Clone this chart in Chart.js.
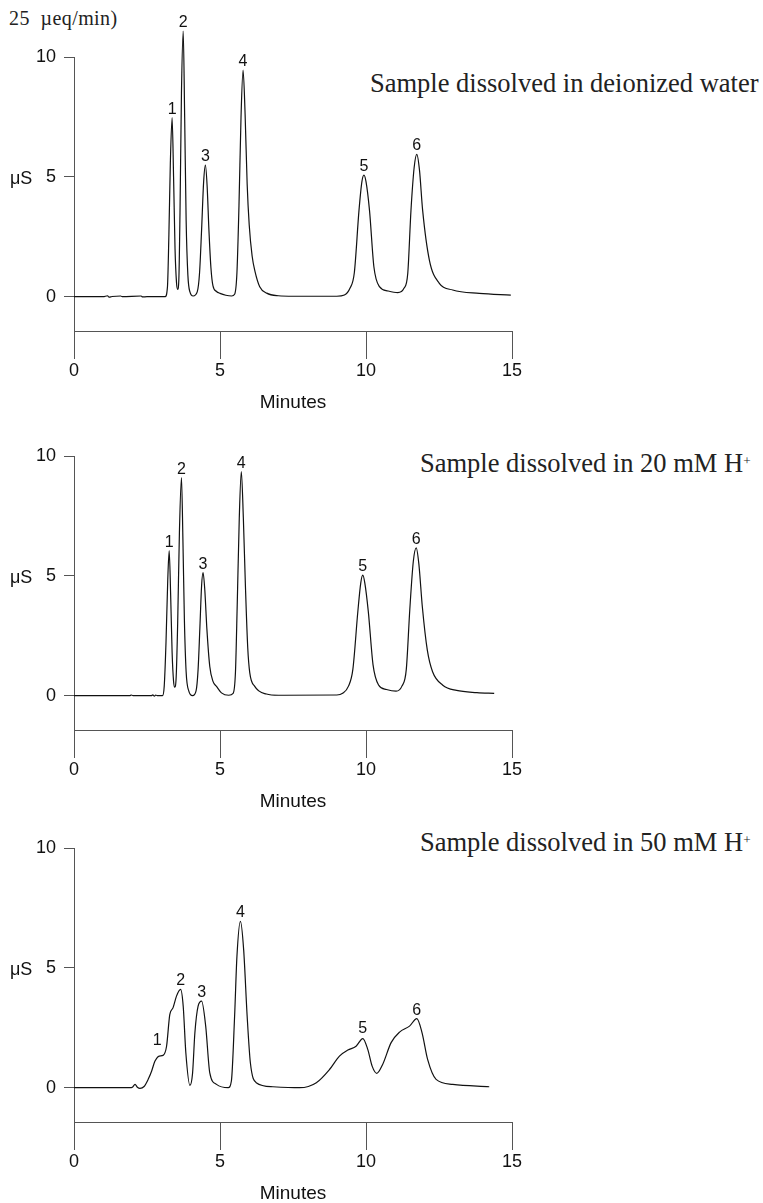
<!DOCTYPE html>
<html>
<head>
<meta charset="utf-8">
<script src="https://cdn.jsdelivr.net/npm/chart.js@4.4.1/dist/chart.umd.min.js"></script>
<style>
  html, body { margin: 0; padding: 0; background: #fff; width: 763px; height: 1203px; overflow: hidden; }
  .panel { position: absolute; left: 0; width: 763px; height: 420px; }
  .note { position: absolute; font-family: "Liberation Serif", "Times New Roman", serif; color: #222;
          white-space: nowrap; line-height: 1; }
  .note .sup { position: relative; top: -0.55em; font-size: 0.5em; }
</style>
</head>
<body>

<div class="note" style="left:9px; top:8px; font-size:20px; letter-spacing:0.4px">25&nbsp; µeq/min)</div>
<div class="note" style="left:370px; top:70px; font-size:26.5px">Sample dissolved in deionized water</div>
<div class="note" style="left:420px; top:450px; font-size:26.5px">Sample dissolved in 20 mM H<span class="sup">+</span></div>
<div class="note" style="left:420px; top:829px; font-size:26.5px">Sample dissolved in 50 mM H<span class="sup">+</span></div>

<div class="panel" style="top:0px"><canvas id="chartWater"></canvas></div>
<div class="panel" style="top:399px"><canvas id="chart20"></canvas></div>
<div class="panel" style="top:791px"><canvas id="chart50"></canvas></div>

<script>
// ---- axes ----
const xTicks = [0, 5, 10, 15];
const yTicks = [0, 5, 10];
const peakNames = ['1', '2', '3', '4', '5', '6'];

// ---- sample in deionized water (minutes / µS) ----
const timesWater = [
  0, 1.0, 1.15, 1.2, 1.3, 1.6, 1.65, 2.3, 2.35, 2.5,
  3.12, 3.2, 3.25, 3.3, 3.36, 3.41, 3.46, 3.51, 3.55, 3.59,
  3.63, 3.68, 3.74, 3.79, 3.84, 3.9, 3.97, 4.08, 4.22, 4.3,
  4.37, 4.44, 4.5, 4.56, 4.62, 4.69, 4.76, 4.88, 5.0, 5.2,
  5.4, 5.5, 5.58, 5.65, 5.72, 5.79, 5.86, 5.93, 6.0, 6.1,
  6.2, 6.36, 6.6, 7.0, 7.5, 9.0, 9.26, 9.45, 9.6, 9.76,
  9.86, 9.93, 10.0, 10.12, 10.27, 10.46, 10.75, 11.09, 11.3, 11.43,
  11.54, 11.65, 11.74, 11.83, 11.94, 12.17, 12.51, 12.97, 13.88, 14.96
];
const signalWater = [
  0, 0, 0.04, -0.02, 0.01, 0.03, 0, 0.03, -0.01, 0,
  0, 0.4, 2.6, 5.6, 7.47, 5.0, 2.0, 0.6, 0.31, 0.7,
  3.5, 8.5, 11.08, 7.5, 3.2, 0.9, 0.2, 0.03, 0.2, 1.0,
  2.8, 4.8, 5.49, 4.6, 2.8, 1.2, 0.45, 0.22, 0.14, 0.06,
  0.03, 0.1, 1.0, 3.8, 7.5, 9.45, 7.6, 4.7, 3.0, 1.7,
  1.05, 0.42, 0.15, 0.04, 0.02, 0.02, 0.07, 0.35, 1.0, 3.6,
  4.8, 5.07, 4.8, 3.6, 1.25, 0.42, 0.24, 0.17, 0.35, 0.97,
  3.6, 5.4, 5.94, 5.3, 3.6, 1.53, 0.56, 0.28, 0.14, 0.07
];
const labelTimesWater = [3.36, 3.74, 4.50, 5.79, 9.93, 11.74];
const labelLevelsWater = [7.47, 11.08, 5.49, 9.45, 5.07, 5.94];

// ---- sample in 20 mM H+ ----
const times20 = [
  0, 1.9, 1.97, 2.02, 2.65, 2.7, 2.75, 2.8, 2.85, 3.03,
  3.09, 3.15, 3.21, 3.26, 3.31, 3.36, 3.41, 3.45, 3.5, 3.55,
  3.61, 3.68, 3.73, 3.78, 3.84, 3.93, 4.06, 4.18, 4.25, 4.31,
  4.37, 4.42, 4.48, 4.55, 4.65, 4.76, 4.88, 5.05, 5.3, 5.45,
  5.53, 5.59, 5.66, 5.73, 5.8, 5.87, 5.95, 6.02, 6.19, 6.59,
  7.0, 9.0, 9.2, 9.4, 9.55, 9.72, 9.82, 9.89, 9.96, 10.08,
  10.24, 10.43, 10.7, 11.03, 11.23, 11.38, 11.5, 11.62, 11.72, 11.81,
  11.93, 12.1, 12.28, 12.63, 13.1, 13.8, 14.39
];
const signal20 = [
  0, 0, 0.03, 0, 0, 0.04, -0.02, 0.03, 0, 0,
  0.4, 2.2, 4.8, 6.05, 4.2, 1.8, 0.6, 0.36, 0.8, 3.0,
  6.8, 9.1, 6.5, 3.2, 1.0, 0.2, 0.0, 0.2, 1.1, 2.8,
  4.6, 5.14, 4.4, 2.8, 1.22, 0.6, 0.39, 0.12, 0.02, 0.1,
  1.0, 3.8, 7.4, 9.35, 7.4, 4.6, 2.0, 0.95, 0.39, 0.07,
  0.02, 0.03, 0.1, 0.4, 1.1, 3.5, 4.7, 5.03, 4.7, 3.5,
  1.3, 0.45, 0.26, 0.19, 0.4, 1.1, 3.6, 5.6, 6.17, 5.5,
  3.7, 1.9, 1.0, 0.44, 0.22, 0.13, 0.1
];
const labelTimes20 = [3.26, 3.68, 4.42, 5.73, 9.89, 11.72];
const labelLevels20 = [6.05, 9.1, 5.14, 9.35, 5.03, 6.17];

// ---- sample in 50 mM H+ ----
const times50 = [
  0, 1.91, 2.0, 2.09, 2.17, 2.26, 2.4, 2.54, 2.66, 2.77,
  2.92, 3.05, 3.17, 3.28, 3.39, 3.51, 3.65, 3.74, 3.83, 3.97,
  4.06, 4.14, 4.25, 4.37, 4.51, 4.65, 4.88, 5.28, 5.39, 5.5,
  5.58, 5.7, 5.81, 5.93, 6.04, 6.24, 6.81, 7.73, 8.3, 8.75,
  9.09, 9.38, 9.66, 9.89, 10.06, 10.21, 10.37, 10.57, 10.86, 11.15,
  11.49, 11.74, 11.92, 12.11, 12.4, 12.97, 14.22
];
const signal50 = [
  0, 0, 0.02, 0.14, 0.02, -0.03, 0.05, 0.35, 0.7, 1.1,
  1.32, 1.35, 1.73, 3.05, 3.33, 3.82, 4.1, 3.4, 1.46, 0.1,
  0.6, 2.29, 3.4, 3.61, 2.57, 0.62, 0.14, 0.0, 0.28, 2.98,
  5.48, 6.94, 5.76, 2.98, 1.04, 0.21, 0.04, 0.0, 0.21, 0.76,
  1.32, 1.57, 1.73, 2.05, 1.6, 0.9, 0.6, 0.97, 1.88, 2.32,
  2.57, 2.88, 2.29, 1.18, 0.35, 0.14, 0.04
];
const labelTimes50 = [2.85, 3.65, 4.37, 5.70, 9.89, 11.74];
const labelLevels50 = [1.62, 4.1, 3.61, 6.94, 2.1, 2.88];

// ============ drawing ============
const SANS = '"Liberation Sans", Arial, sans-serif';
const AXIS_COLOR = '#555';

// peak numbers above each peak, and the µS unit beside the 5 tick
const peakLabels = {
  id: 'peakLabels',
  afterDatasetsDraw(chart, args, opts) {
    const { ctx, scales: { x, y } } = chart;
    ctx.save();
    ctx.fillStyle = '#111';
    ctx.font = '16px ' + SANS;
    ctx.textAlign = 'center';
    ctx.textBaseline = 'alphabetic';
    opts.times.forEach((t, i) => {
      ctx.fillText(peakNames[i], x.getPixelForValue(t), y.getPixelForValue(opts.levels[i]) - 4);
    });
    ctx.font = '18px ' + SANS;
    ctx.textAlign = 'left';
    ctx.textBaseline = 'middle';
    ctx.fillText('μS', 10, y.getPixelForValue(5) + 2);
    ctx.restore();
  }
};

function makeChart(id, times, signal, labelTimes, labelLevels) {
  const points = times.map((t, i) => ({ x: t, y: signal[i] }));
  return new Chart(document.getElementById(id), {
    type: 'line',
    data: { datasets: [{
      data: points, borderColor: '#111', borderWidth: 1.2, pointRadius: 0,
      cubicInterpolationMode: 'monotone', clip: false, fill: false
    }]},
    options: {
      responsive: true, maintainAspectRatio: false, animation: false,
      layout: { padding: { top: 57, right: 251, bottom: 0, left: 0 } },
      plugins: {
        legend: { display: false }, tooltip: { enabled: false },
        peakLabels: { times: labelTimes, levels: labelLevels }
      },
      scales: {
        x: {
          type: 'linear', min: 0, max: 15,
          afterBuildTicks: s => { s.ticks = xTicks.map(v => ({ value: v })); },
          afterFit: s => { s.height = 89; },
          grid: { drawOnChartArea: false, drawTicks: true, tickLength: 28, color: AXIS_COLOR, lineWidth: 1 },
          border: { display: true, color: AXIS_COLOR, width: 1 },
          ticks: { color: '#111', font: { family: SANS, size: 18 }, padding: 1, autoSkip: false, maxRotation: 0 },
          title: { display: true, text: 'Minutes', color: '#111', font: { family: SANS, size: 19 },
                   padding: { top: 0, bottom: 6 } }
        },
        y: {
          type: 'linear', min: -1.43, max: 10,
          afterBuildTicks: s => { s.ticks = yTicks.map(v => ({ value: v })); },
          afterFit: s => { s.width = 74; },
          grid: { drawOnChartArea: false, drawTicks: true, tickLength: 10, color: AXIS_COLOR, lineWidth: 1 },
          border: { display: true, color: AXIS_COLOR, width: 1 },
          ticks: { color: '#111', font: { family: SANS, size: 18 }, padding: 8 }
        }
      }
    },
    plugins: [peakLabels]
  });
}

makeChart('chartWater', timesWater, signalWater, labelTimesWater, labelLevelsWater);
makeChart('chart20', times20, signal20, labelTimes20, labelLevels20);
makeChart('chart50', times50, signal50, labelTimes50, labelLevels50);
</script>
</body>
</html>
